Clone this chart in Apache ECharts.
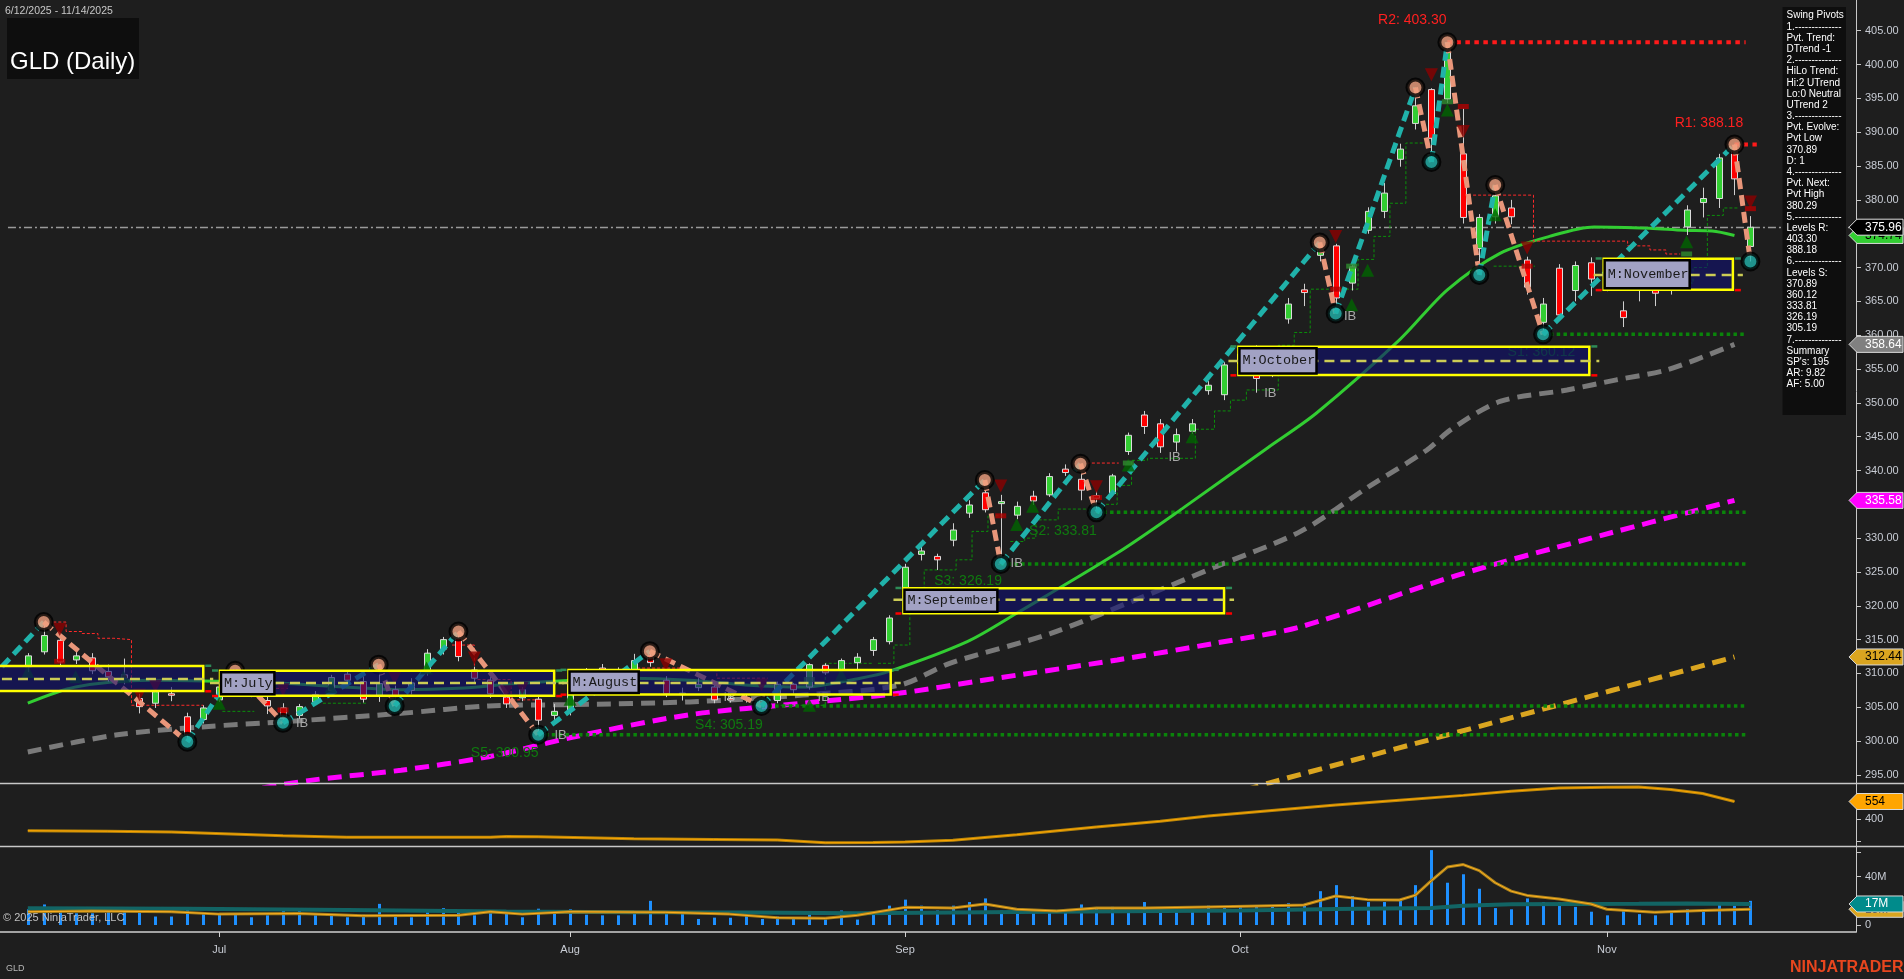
<!DOCTYPE html>
<html><head><meta charset="utf-8">
<script src="https://cdn.jsdelivr.net/npm/echarts@6/dist/echarts.min.js"></script>
<style>html,body{margin:0;padding:0;background:#1e1e1e;overflow:hidden}#c{width:1904px;height:979px}</style>
</head><body><div id="c"></div>
<script>
// ---------------- DATA ----------------
const dates = ['6/12','6/13','6/16','6/17','6/18','6/20','6/23','6/24','6/25','6/26','6/27','6/30',
'7/1','7/2','7/3','7/7','7/8','7/9','7/10','7/11','7/14','7/15','7/16','7/17','7/18','7/21','7/22','7/23','7/24','7/25','7/28','7/29','7/30','7/31',
'8/1','8/4','8/5','8/6','8/7','8/8','8/11','8/12','8/13','8/14','8/15','8/18','8/19','8/20','8/21','8/22','8/25','8/26','8/27','8/28','8/29',
'9/2','9/3','9/4','9/5','9/8','9/9','9/10','9/11','9/12','9/15','9/16','9/17','9/18','9/19','9/22','9/23','9/24','9/25','9/26','9/29','9/30',
'10/1','10/2','10/3','10/6','10/7','10/8','10/9','10/10','10/13','10/14','10/15','10/16','10/17','10/20','10/21','10/22','10/23','10/24','10/27','10/28','10/29','10/30','10/31',
'11/3','11/4','11/5','11/6','11/7','11/10','11/11','11/12','11/13','11/14'];
const year = 2025;
const monthNames = ['Jan','Feb','Mar','Apr','May','Jun','Jul','Aug','Sep','Oct','Nov','Dec'];

const open = [311.0,313.2,314.9,312.0,312.3,310.3,309.8,306.3,305.6,307.0,303.6,303.2,
306.1,308.5,308.4,306.0,304.9,303.8,305.8,307.5,309.9,308.8,306.6,307.6,307.5,310.1,313.6,315.2,310.5,309.0,306.5,306.4,306.2,303.8,
304.6,309.3,310.8,310.3,310.2,312.6,309.0,306.9,307.9,308.0,306.3,306.4,306.0,306.0,308.4,308.0,311.2,310.6,311.6,313.4,314.7,
322.6,327.6,327.3,329.7,333.7,336.7,335.1,333.4,336.2,336.4,340.2,338.7,336.3,336.6,342.8,348.2,346.9,344.2,345.8,351.8,351.2,
355.8,357.4,354.2,362.4,366.7,371.8,373.2,367.7,375.5,378.3,386.0,391.3,396.3,394.9,386.8,372.8,377.5,378.8,371.1,361.9,369.9,366.6,370.7,
368.8,363.6,367.2,367.3,367.5,376.0,379.6,380.2,387.3,373.1];
const high = [313.0,317.6,315.4,313.4,313.0,311.3,312.2,307.0,307.6,308.0,304.2,305.3,
308.8,310.4,309.2,306.8,305.6,305.5,307.4,309.8,310.5,309.6,311.3,308.2,309.3,313.6,315.4,316.2,311.0,309.5,307.3,308.0,306.6,305.5,
309.1,310.8,311.4,310.9,312.9,313.3,309.6,307.9,309.3,308.4,306.8,306.9,306.3,308.8,308.6,311.5,311.5,312.2,313.0,315.4,318.6,
326.2,329.3,327.7,332.2,335.6,338.6,336.4,335.4,337.0,339.6,340.9,341.0,336.9,339.5,345.6,348.8,347.6,346.2,347.6,353.2,356.0,
357.9,358.5,357.7,365.5,367.6,373.7,373.5,370.9,378.9,382.5,388.3,396.6,396.5,403.3,393.5,377.9,382.2,380.0,371.6,365.5,370.5,370.9,371.5,
371.0,365.0,368.8,368.2,370.5,379.2,381.8,386.8,388.18,377.6];
const low = [310.2,312.8,311.2,311.4,309.9,308.8,308.4,304.1,304.9,305.9,299.9,302.6,
305.8,307.5,306.5,304.0,302.7,303.3,305.4,307.2,308.3,305.7,305.8,305.2,306.9,309.7,312.8,311.8,308.7,306.4,304.9,305.9,300.95,302.7,
303.8,308.8,309.7,309.1,310.0,311.0,306.5,306.0,307.4,305.6,305.7,305.7,305.19,305.6,307.0,307.6,309.8,310.4,310.6,312.6,314.3,
321.9,326.7,325.3,328.8,333.0,333.8,326.19,332.8,334.9,336.1,339.2,335.6,333.81,336.2,342.3,345.4,342.6,342.8,345.4,351.2,350.4,
354.9,351.5,353.8,361.7,364.3,370.9,363.2,366.6,375.0,377.3,384.9,390.4,385.6,394.3,376.5,368.9,376.5,376.4,366.0,360.12,362.3,365.0,365.8,
366.5,361.2,365.0,364.3,366.0,374.8,377.4,378.8,380.7,370.89];
const close = [312.6,315.6,311.7,312.6,310.4,309.5,309.3,305.1,307.3,306.8,300.8,304.9,
308.0,309.2,307.0,305.2,303.3,305.1,306.9,309.4,309.0,306.2,308.5,306.5,308.6,313.0,315.0,312.5,309.3,307.0,305.5,307.6,303.1,304.4,
308.8,310.5,310.6,309.5,311.9,311.6,307.0,307.1,308.4,306.1,306.2,306.3,305.6,308.4,307.6,311.3,310.1,311.9,312.4,315.0,318.2,
325.7,328.1,326.8,331.2,334.9,334.2,335.4,334.7,335.5,339.1,339.7,337.1,335.9,339.2,345.2,346.5,343.5,345.3,346.9,352.6,355.6,
357.2,353.6,356.8,364.6,366.3,372.8,365.5,370.1,378.3,381.0,387.5,393.9,389.1,401.9,377.4,377.4,380.6,377.5,367.1,364.6,363.0,370.3,368.3,
369.5,362.6,367.6,366.2,368.4,378.5,380.2,386.2,383.1,375.96];
// volume in millions
const volume = [13,17,13,9.7,9.7,11,12,12.5,7,7,13,9,
9.7,9,6.4,8,12,12,8,9,6.4,8.5,17.5,7,6.4,10.5,14,10.5,8,9.7,9.7,6.4,13.5,9.7,
13,8.5,8,8,10.5,20,11,9.7,5,6.1,6,8,5,7,6,9,4.5,12,4.5,10,16,
21,16,12,16,19,22,12,10,10.5,12,12,17,14,15,12,19,12,12,12,16,14,
16,16,15,18,16,28,33,24,19,19,20,33,62,35,42,30,14,13,22,19,19,15,11,
8,12,9,8,10,13,11,17,16,20];

// moving averages: [bar index, value]
const maGreen = [[0,305.6],[3,308.0],[7.6,309.0],[12.7,308.8],[16.3,308.5],[19.8,308.0],[23.4,307.6],[27,307.8],[30.6,308.5],[34.2,309.0],[37.8,309.3],[41.5,309.0],[45,308.3],[48.6,308.0],[52.2,309.3],[54,310.3],[58.9,314.7],[62,318.9],[68.3,327.8],[72.4,334.4],[77.7,343.3],[80.8,348.5],[86,359.3],[89,366.7],[92.3,372.1],[95.4,374.6],[98.2,376.0],[101.7,375.8],[103.8,375.5],[105.6,375.4],[107,374.74]];
const maGray = [[0,298.4],[5.5,300.9],[10.9,302.1],[16.3,302.9],[23.4,304.1],[28.9,305.2],[34.2,305.4],[41.5,305.8],[48.6,306.8],[54.7,308.3],[57.8,311.5],[64.1,315.9],[70.4,321.8],[74.5,325.8],[79.8,331.0],[84,337.5],[87.7,343.0],[89.2,346.0],[92.3,350.2],[96.5,351.9],[99.6,353.4],[102.8,354.9],[107,358.64]];
const maMagenta = [[12,292.0],[17.7,294.2],[23.4,295.7],[28.9,297.7],[34.2,300.6],[41.5,303.9],[48.6,305.6],[54.7,307.1],[59.9,309.0],[68.3,312.0],[74.5,314.5],[79.8,316.9],[89.6,324.5],[98,330.0],[107,335.58]];
const maOrange = [[75,291.8],[77.8,293.8],[93.4,303.7],[107,312.44]];

// second panel indicator
const ind2 = [[0,297],[5,292],[9,285],[16,253],[20,240],[29,240],[30,245],[32,243],[38,226],[43,220],[47,215],[50,191],[53,192],[55,198],[58,212],[62,262],[67,330],[71,380],[74,426],[78,475],[82,523],[86,566],[90,608],[93,645],[96,672],[99,680],[101,681],[103,660],[105,625],[107,554]];
// volume averages (millions)
const volFast = [[0,11],[4,11.5],[9,11],[12,9],[17,9.5],[21,7.7],[27,8],[29,11],[31,9],[34,11],[40,10.5],[44,9],[47,6],[50,5.5],[52,8],[55,14.6],[58,14],[60,17.4],[62,13],[64.5,11.6],[67,14],[70,14],[74,15],[78,16],[80,16.5],[82,24],[84,21],[86,20.7],[87,24.7],[88,36.7],[89,48],[90,50],[91,45],[92,35],[93,28],[94,24.5],[96,21.5],[98,17.4],[99,13],[102,10.5],[105,12],[108,13]];
const volSlow = [[0,13.8],[10,13.5],[20,12.4],[30,11.2],[38,10.5],[45,10.4],[52,9.7],[64,11],[76,12],[82,13.2],[88,14],[90,16],[93,17.2],[101,17.5],[104,17.8],[108,17.4]];

// swing pivots
const pivotBar   = [-6, 1, 10, 13, 16, 22, 23, 27, 32, 39, 46, 60, 61, 66, 67, 81, 82, 87, 88, 89, 91, 92, 95, 107, 108];
const pivotPrice = [300.0,317.6,299.9,310.4,302.7,311.3,305.2,316.2,300.95,313.3,305.19,338.6,326.19,341.0,333.81,373.7,363.2,396.6,385.6,403.30,368.9,382.2,360.12,388.18,370.89];

// support / resistance levels
const levelName  = ['R2','R1','S1','S2','S3','S4','S5'];
const levelPrice = [403.30,388.18,360.12,333.81,326.19,305.19,300.95];
const levelStart = [89,107,95,67,61,46,32];
const levelEnd   = [107.7,108.4,107.7,107.7,107.7,107.7,107.7];
const levelLabelBar   = [86.8,105.4,94.9,64.9,58.95,43.96,29.9];
const levelLabelPrice = [406.5,391.4,357.5,331.0,323.6,302.4,298.2];

// monthly boxes
const boxName  = ['June','July','August','September','October','November'];
const boxStart = [-3,12.05,33.9,54.9,75.9,98.8];
const boxEnd   = [11.0,33.0,54.1,75.0,97.9,106.9];
const boxHigh  = [311.1,310.4,310.5,322.6,358.3,371.3];
const boxLow   = [307.4,306.7,306.9,318.9,354.1,366.7];
const boxMid   = [309.2,308.6,308.6,320.9,356.2,368.9];

// signal markers
const triUp = [[0,310.3],[3,309.5],[6,309.5],[12,305.6],[19,308.0],[25,310.8],[34,306.2],[49,305.3],[51,309.8],[62,332.0],[63,334.7],[69,340.8],[73,345.0],[83,364.5],[84,369.6],[89,393.3],[92,377.8],[104,373.8]];
const triDown = [[2,316.5],[7,306.8],[8,308.1],[16,307.6],[23,309.3],[28,312.3],[30,307.3],[31,307.8],[40,311.3],[46,308.3],[61,337.7],[67,337.6],[82,374.6],[88,398.5],[90,390.1],[94,372.9],[108,379.7]];
const sqGreen = [[49,309.1],[69,341.1],[83,370.2],[89,394.5],[104,372.0]];
const sqRed = [[2,311.8],[16,304.6],[61,333.3],[67,336.0],[82,366.8],[90,393.8],[94,370.2],[108,378.7]];
const ibBar   = [17.2,33.4,44,49.9,62,71.9,77.9,82.9];
const ibPrice = [302.6,300.9,306.5,306.5,326.3,342.0,351.4,362.8];

// trailing stop steps
const greenStops = [
 [[53.3,311.5],[54.3,314.2],[55.3,322.6],[56.2,325.3],[58.2,326.8],[59.2,331.0],[60.2,333.3],[61.3,333.3]],
 [[61.6,329.5],[62.5,330.0],[63.2,332.7],[64.6,334.3],[66.5,334.3]],
 [[67.6,335.0],[68.3,337.8],[69.2,341.5],[70.2,341.8],[73.2,346.1],[74.4,348.8],[75.4,350.4],[76.4,351.9],[78.4,358.5],[79.4,360.4],[80.4,366.8],[83.4,371.2],[84.4,374.6],[85.4,379.5],[86.4,388.4],[87.8,388.4]],
 [[91.9,370.2],[94.5,370.2]],
 [[102.3,367.7],[104.4,370.0],[105.3,377.7],[106.3,378.8],[107.2,378.8]],
 [[12.2,304.4],[14.2,304.4]],
 [[18.5,305.6],[21.3,305.6]],
 [[47.2,305.3],[49.5,305.3],[50,311.5],[53.0,311.5]]
];
const redStops = [
 [[1.6,317.6],[2.4,316.2],[3.4,315.9],[4.4,315.2],[5.4,315.0],[6.5,305.3],[11.0,305.3]],
 [[14,307.8],[16.3,307.8]],
 [[26.6,314.2],[28.0,309.1],[30.3,306.1],[32.0,306.1]],
 [[38.2,310.8],[41.3,310.5],[43.2,309.3],[46.4,309.3]],
 [[66.4,341.1],[68.4,341.1]],
 [[90.3,380.7],[94.4,373.9],[100.3,373.2],[101.7,372.6],[102.7,372.0],[103.6,372.0]]
];

const infoLines = ['Swing Pivots','1.--------------','Pvt. Trend:','DTrend -1','2.--------------','HiLo Trend:','Hi:2 UTrend','Lo:0 Neutral','UTrend 2','3.--------------','Pvt. Evolve:','Pvt Low','370.89','D: 1','4.--------------','Pvt. Next:','Pvt High','380.29','5.--------------','Levels R:','403.30','388.18','6.--------------','Levels S:','370.89','360.12','333.81','326.19','305.19','7.--------------','Summary',"SP's: 195",'AR: 9.82','AF: 5.00'];

const priceTicks = [295,300,305,310,315,320,325,330,335,340,345,350,355,360,365,370,375,380,385,390,395,400,405];
const ind2Ticks = [200,400,600], ind2Labels = [400];
const volTicks = [0,20,40,60], volLabels = [0,40];

// ---------------- LAYOUT ----------------
const N = dates.length;
const XMIN = -1.743, XMAX = 114.62;
const monthStarts = [];
dates.forEach((d,i)=>{ if(i>0 && d.split('/')[0]!==dates[i-1].split('/')[0]) monthStarts.push(i); });
const FONT = '"Liberation Sans", Arial, sans-serif';
const MONO = '"Liberation Mono", "DejaVu Sans Mono", monospace';
const last = a => a[a.length-1][1];

const chart = echarts.init(document.getElementById('c'), null, {renderer:'canvas', width:1904, height:979});

function segSeries(name, segs, color, dash, width, z){
  return segs.map((s,k)=>({type:'line', name:name+k, xAxisIndex:0, yAxisIndex:0, data:s, step:'end', symbol:'none', silent:true, z:z,
    lineStyle:{color:color, width:width, type:dash}, animation:false}));
}

const yAxisCommon = {position:'right', axisLine:{show:true, onZero:false, lineStyle:{color:'#c8c8c8', width:1}},
  axisTick:{show:true, inside:false, length:5, lineStyle:{color:'#c8c8c8'}}, splitLine:{show:false},
  axisLabel:{color:'#c8ccd4', fontSize:11, fontFamily:FONT, margin:9}};

const option = {
  backgroundColor:'#1e1e1e',
  animation:false,
  grid:[
    {left:0, right:48, top:0, height:783},
    {left:0, right:48, top:783, height:63},
    {left:0, right:48, top:846, height:86}
  ],
  xAxis:[
    {type:'value', gridIndex:0, min:XMIN, max:XMAX, show:false},
    {type:'value', gridIndex:1, min:XMIN, max:XMAX, show:false},
    {type:'value', gridIndex:2, min:XMIN, max:XMAX, splitLine:{show:false}, position:'bottom',
      axisLine:{show:true, onZero:false, lineStyle:{color:'#d0d0d0', width:1.5}},
      axisTick:{show:true, customValues:monthStarts, length:5, lineStyle:{color:'#d0d0d0'}},
      axisLabel:{customValues:monthStarts, color:'#c8ccd4', fontSize:11, fontFamily:FONT, margin:12,
        formatter:v=>monthNames[parseInt(dates[Math.round(v)].split('/')[0])-1]}}
  ],
  yAxis:[
    Object.assign({}, yAxisCommon, {type:'value', gridIndex:0, min:293.81, max:409.54,
      axisTick:Object.assign({}, yAxisCommon.axisTick, {customValues:priceTicks}),
      axisLabel:Object.assign({}, yAxisCommon.axisLabel, {customValues:priceTicks, formatter:v=>v.toFixed(2)})}),
    Object.assign({}, yAxisCommon, {type:'value', gridIndex:1, min:162, max:717,
      axisTick:Object.assign({}, yAxisCommon.axisTick, {customValues:ind2Ticks}),
      axisLabel:Object.assign({}, yAxisCommon.axisLabel, {customValues:ind2Labels})}),
    Object.assign({}, yAxisCommon, {type:'value', gridIndex:2, min:-5.8, max:65.4,
      axisTick:Object.assign({}, yAxisCommon.axisTick, {customValues:volTicks}),
      axisLabel:Object.assign({}, yAxisCommon.axisLabel, {customValues:volLabels, formatter:v=>v===0?'0':v+'M'})})
  ],
  series:[]
};
const S = option.series;

// moving averages
S.push({type:'line', data:maOrange, symbol:'none', smooth:0.3, z:2, lineStyle:{color:'#daa520', width:5, type:[14,8]}});
S.push({type:'line', data:maMagenta, symbol:'none', smooth:0.3, z:2, lineStyle:{color:'#ff00ff', width:5, type:[14,8]}});
S.push({type:'line', data:maGray, symbol:'none', smooth:0.3, z:2, lineStyle:{color:'#7a7a7a', width:5, type:[14,8]}});
S.push({type:'line', data:maGreen, symbol:'none', smooth:0.3, z:3, lineStyle:{color:'#32cd32', width:3}});

// level lines
S.push({type:'custom', z:3, data:levelPrice.map((p,i)=>[levelStart[i], p, levelEnd[i], i]),
  renderItem:(params, api)=>{
    const i=api.value(3), a=api.coord([api.value(0), api.value(1)]), b=api.coord([api.value(2), api.value(1)]);
    const isR = levelName[i][0]==='R';
    return {type:'line', shape:{x1:a[0], y1:a[1], x2:b[0], y2:b[1]},
      style:{stroke:isR?'#ff1a1a':'#0a840a', lineWidth:isR?4:3.5, lineDash:isR?[4.5,4.5]:[3.5,3.3]}};
  }});

// current price line
S.push({type:'custom', z:3, data:[[XMIN, close[N-1], XMAX]],
  renderItem:(params, api)=>{
    const a=api.coord([api.value(0)+0.5, api.value(1)]), b=api.coord([api.value(2), api.value(1)]);
    const y=Math.round(a[1])+0.5;
    return {type:'line', shape:{x1:a[0], y1:y, x2:b[0], y2:y}, style:{stroke:'#9a9a9a', lineWidth:1.5, lineDash:[8,3,2,3]}};
  }});

// trailing stops
segSeries('gs', greenStops, '#0b8f0b', [3,2], 1, 3).forEach(s=>S.push(s));
segSeries('rs', redStops, '#ff2a2a', [3,2], 1, 3).forEach(s=>S.push(s));

// candles
S.push({type:'custom', z:4, data:open.map((o,i)=>[i,o,close[i],low[i],high[i]]),
  renderItem:(params, api)=>{
    const i=api.value(0), o=api.value(1), c=api.value(2), l=api.value(3), h=api.value(4);
    const po=api.coord([i,o]), pc=api.coord([i,c]), pl=api.coord([i,l]), ph=api.coord([i,h]);
    const x=Math.round(po[0])+0.5, w=6;
    const top=Math.min(po[1],pc[1]), bot=Math.max(po[1],pc[1]);
    const up=c>=o;
    return {type:'group', children:[
      {type:'line', shape:{x1:x, y1:ph[1], x2:x, y2:pl[1]}, style:{stroke:'#cfcfcf', lineWidth:1}},
      {type:'rect', shape:{x:x-w/2, y:top, width:w, height:Math.max(1.5,bot-top)}, style:{fill:up?'#32cd32':'#ff0000', stroke:'#dcdcdc', lineWidth:1}}
    ]};
  }});

// swing lines
const segs=[];
for(let k=0;k<pivotBar.length-1;k++) segs.push([pivotBar[k],pivotPrice[k],pivotBar[k+1],pivotPrice[k+1]]);
S.push({type:'custom', z:6, data:segs,
  renderItem:(params, api)=>{
    const a=api.coord([api.value(0),api.value(1)]), b=api.coord([api.value(2),api.value(3)]);
    const up=api.value(3)>api.value(1);
    return {type:'line', shape:{x1:a[0],y1:a[1],x2:b[0],y2:b[1]}, style:{stroke:up?'#20b2aa':'#e9967a', lineWidth:5, lineDash:[11,6]}};
  }});

// markers
S.push({type:'scatter', z:6, data:triUp, symbol:'triangle', symbolSize:[13,13], itemStyle:{color:'#006400'}});
S.push({type:'scatter', z:6, data:triDown, symbol:'triangle', symbolRotate:180, symbolSize:[13,13], itemStyle:{color:'#8b0000'}});
S.push({type:'scatter', z:6, data:sqGreen, symbol:'rect', symbolSize:[11,5], itemStyle:{color:'#2e8b2e'}});
S.push({type:'scatter', z:6, data:sqRed, symbol:'rect', symbolSize:[11,5], itemStyle:{color:'#b00000'}});

// pivot circles
S.push({type:'scatter', z:7, data:pivotBar.map((b,k)=>{
    const prev = k>0?pivotPrice[k-1]:-Infinity, nxt = k<pivotBar.length-1?pivotPrice[k+1]:-Infinity;
    const isHigh = pivotPrice[k] > (k>0?prev:nxt);
    return {value:[b,pivotPrice[k]], itemStyle:{color:isHigh?'#f0a080':'#20b2aa'}};
  }), symbol:'circle', symbolSize:16, itemStyle:{borderColor:'#000', borderWidth:4}});

// texts: IB + level labels
S.push({type:'custom', z:8, data:ibBar.map((b,i)=>[b, ibPrice[i]]),
  renderItem:(params, api)=>{
    const p=api.coord([api.value(0),api.value(1)]);
    return {type:'text', x:p[0], y:p[1], style:{text:'IB', fill:'#a8a8a8', font:'13px '+FONT, align:'center', verticalAlign:'middle'}};
  }});
S.push({type:'custom', z:7, data:levelName.map((n,i)=>[levelLabelBar[i], levelLabelPrice[i], i]),
  renderItem:(params, api)=>{
    const i=api.value(2), p=api.coord([api.value(0),api.value(1)]);
    const isR=levelName[i][0]==='R';
    return {type:'text', x:p[0], y:p[1], style:{text:levelName[i]+': '+levelPrice[i].toFixed(2), fill:isR?'#ff2020':'#0f7a0f', font:'14px '+FONT, align:'center', verticalAlign:'middle'}};
  }});

// monthly boxes
S.push({type:'custom', z:9, data:boxName.map((n,i)=>[boxStart[i], boxHigh[i], boxEnd[i], boxLow[i], boxMid[i], i]),
  renderItem:(params, api)=>{
    const a=api.coord([api.value(0),api.value(1)]), b=api.coord([api.value(2),api.value(3)]);
    const m=api.coord([api.value(0),api.value(4)])[1];
    const i=api.value(5);
    const x1=a[0], x2=b[0], y1=a[1], y2=b[1];
    const txt='M:'+boxName[i];
    const tw=txt.length*7.9+6;
    const kids=[
      {type:'rect', shape:{x:x1, y:y1, width:x2-x1, height:y2-y1}, style:{fill:'rgba(16,16,112,0.62)', stroke:'#ffff00', lineWidth:2.5}},
      {type:'line', shape:{x1:x1-10, y1:m, x2:x2+10, y2:m}, style:{stroke:'#cccc55', lineWidth:2.5, lineDash:[10,6]}},
      {type:'rect', shape:{x:x1-8, y:y2-1, width:6, height:2.5}, style:{fill:'#ff0000'}},
      {type:'rect', shape:{x:x2+2, y:y2-1, width:6, height:2.5}, style:{fill:'#ff0000'}},
      {type:'rect', shape:{x:x1-8, y:y1-1.5, width:6, height:2.5}, style:{fill:'#2e8b57'}},
      {type:'rect', shape:{x:x2+2, y:y1-1.5, width:6, height:2.5}, style:{fill:'#2e8b57'}}
    ];
    if(api.value(0) > XMIN){
      kids.push({type:'rect', shape:{x:x1+1, y:y1+1.5, width:tw, height:y2-y1-3}, style:{fill:'#a2a2c4', stroke:'#000', lineWidth:2.5}});
      kids.push({type:'text', x:x1+4, y:(y1+y2)/2, style:{text:txt, fill:'#1a1a1a', font:'13.5px '+MONO, align:'left', verticalAlign:'middle'}});
    }
    return {type:'group', children:kids};
  }});

// price flags on the right axis
function flagSeries(grid, items){
  return {type:'custom', xAxisIndex:grid, yAxisIndex:grid, z:20, clip:false, data:items.map((it,k)=>[XMAX, it.v, k]),
    renderItem:(params, api)=>{
      const it=items[api.value(2)]; const y=api.coord([XMAX, api.value(1)])[1];
      const h=8;
      return {type:'group', children:[
        {type:'polygon', shape:{points:[[1849,y],[1857,y-h],[1903,y-h],[1903,y+h],[1857,y+h]]}, style:{fill:it.fill, stroke:it.stroke||'#d8d8d8', lineWidth:1}},
        {type:'text', x:1865, y:y, style:{text:it.t, fill:it.tc, font:'12px '+FONT, align:'left', verticalAlign:'middle'}}
      ]};
    }};
}
S.push(flagSeries(0, [
  {v:last(maGreen), t:last(maGreen).toFixed(2), fill:'#32cd32', tc:'#000'},
  {v:close[N-1], t:close[N-1].toFixed(2), fill:'#000', tc:'#fff', stroke:'#e0e0e0'},
  {v:last(maGray), t:last(maGray).toFixed(2), fill:'#808080', tc:'#fff'},
  {v:last(maMagenta), t:last(maMagenta).toFixed(2), fill:'#ff00ff', tc:'#fff'},
  {v:last(maOrange), t:last(maOrange).toFixed(2), fill:'#daa520', tc:'#000'}
]));

// second panel
S.push({type:'line', xAxisIndex:1, yAxisIndex:1, data:ind2, symbol:'none', z:3, lineStyle:{color:'#b8860b', width:3}});
S.push({type:'line', xAxisIndex:1, yAxisIndex:1, data:ind2, symbol:'none', z:4, lineStyle:{color:'#ffa500', width:1}});
S.push(flagSeries(1, [{v:last(ind2), t:String(Math.round(last(ind2))), fill:'#ffa500', tc:'#000'}]));

// volume
S.push({type:'custom', xAxisIndex:2, yAxisIndex:2, z:3, data:volume.map((v,i)=>[i,v]),
  renderItem:(params, api)=>{
    const p=api.coord([api.value(0), api.value(1)]), z0=api.coord([api.value(0), 0]);
    return {type:'rect', shape:{x:Math.round(p[0])-1, y:p[1], width:3, height:z0[1]-p[1]}, style:{fill:'#1e90ff'}};
  }});
S.push({type:'line', xAxisIndex:2, yAxisIndex:2, data:volSlow, symbol:'none', z:4, lineStyle:{color:'#126464', width:4}});
S.push({type:'line', xAxisIndex:2, yAxisIndex:2, data:volFast, symbol:'none', z:5, lineStyle:{color:'#a8801a', width:3}});
S.push({type:'line', xAxisIndex:2, yAxisIndex:2, data:volFast, symbol:'none', z:5, lineStyle:{color:'#ffb020', width:1}});
S.push(flagSeries(2, [
  {v:last(volFast), t:Math.round(last(volFast))+'M', fill:'#daa520', tc:'#000'},
  {v:last(volSlow), t:Math.round(last(volSlow))+'M', fill:'#008b8b', tc:'#fff'}
]));

// static decorations
const g = [];
g.push({type:'line', shape:{x1:0,y1:783.5,x2:1904,y2:783.5}, style:{stroke:'#c8c8c8', lineWidth:1.5}, z:30});
g.push({type:'line', shape:{x1:0,y1:846.5,x2:1904,y2:846.5}, style:{stroke:'#c8c8c8', lineWidth:1.5}, z:30});
g.push({type:'text', x:5, y:11, style:{text:dates[0]+'/'+year+' - '+dates[N-1]+'/'+year, fill:'#c8c8c8', font:'10.5px '+FONT, verticalAlign:'middle'}, z:30});
g.push({type:'rect', shape:{x:7, y:18, width:132, height:61}, style:{fill:'#0e0e0e'}, z:30});
g.push({type:'text', x:10, y:62, style:{text:'GLD (Daily)', fill:'#ffffff', font:'24px '+FONT, verticalAlign:'middle'}, z:31});
g.push({type:'rect', shape:{x:1782.5, y:7, width:63.5, height:408}, style:{fill:'#0e0e0e'}, z:30});
infoLines.forEach((t,k)=>g.push({type:'text', x:1786.5, y:15.7+k*11.18, style:{text:t, fill:'#ffffff', font:'10px '+FONT, verticalAlign:'middle'}, z:31}));
g.push({type:'text', x:3, y:918, style:{text:'\u00a9 '+year+' NinjaTrader, LLC', fill:'#c0c0c0', font:'11px '+FONT, verticalAlign:'middle'}, z:30});
g.push({type:'text', x:6, y:969, style:{text:'GLD', fill:'#b8b8b8', font:'9px '+FONT, verticalAlign:'middle'}, z:30});
g.push({type:'text', x:1790, y:968, style:{text:'NINJATRADER', fill:'#e8461e', font:'bold 16px '+FONT, verticalAlign:'middle'}, z:30});
option.graphic = g;

chart.setOption(option);
</script>
</body></html>
